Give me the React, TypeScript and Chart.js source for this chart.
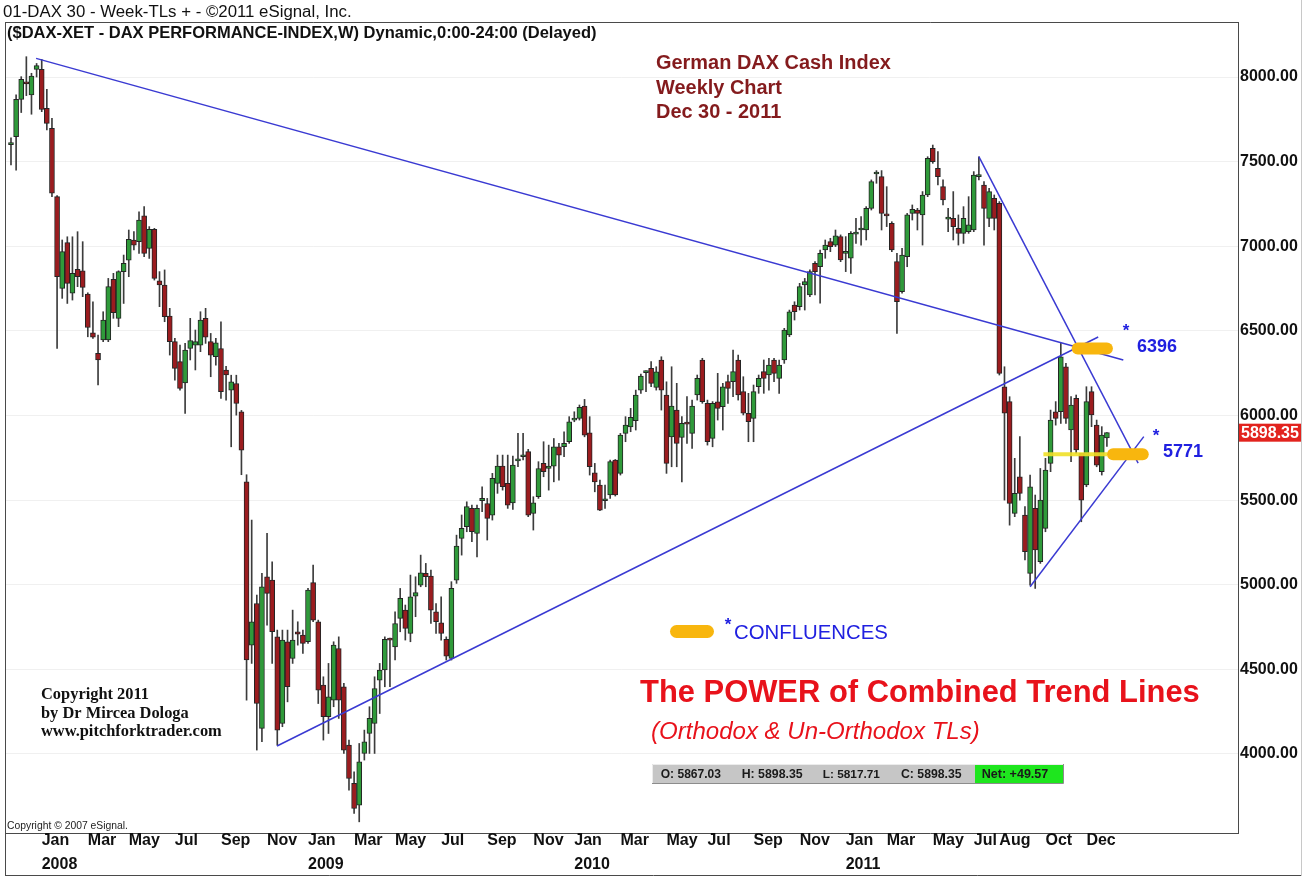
import React, { useEffect, useRef } from "react";
import { Chart, registerables } from "chart.js";

Chart.register(...registerables);

// ---- Weekly candles (index 0 = week ending 23 Nov 2007, last = 30 Dec 2011) ----
const opens = [
  7600, 7647, 7868, 7972, 7894, 8045, 8045, 7815, 7697, 7293,
  6751, 7021, 6722, 6863, 6855, 6717, 6489, 6367, 6446, 6446,
  6804, 6574, 6850, 6918, 7037, 7027, 7179, 6987, 7100, 6796,
  6771, 6588, 6436, 6318, 6193, 6396, 6416, 6416, 6574, 6436,
  6347, 6396, 6268, 6150, 6189, 6022, 5608, 4643, 4889, 4151,
  5047, 5027, 4692, 4180, 4663, 4564, 4722, 4702, 4663, 5012,
  4781, 4407, 4220, 4318, 4623, 4397, 4052, 3826, 3698, 4003,
  4121, 4180, 4436, 4496, 4680, 4633, 4801, 4850, 4712, 4933,
  4998, 5067, 5051, 4840, 4775, 4677, 4564, 5027, 5274, 5343,
  5451, 5303, 5496, 5480, 5411, 5599, 5701, 5599, 5484, 5732,
  5756, 5786, 5421, 5520, 5717, 5687, 5701, 5815, 5815, 5845,
  5973, 5983, 6056, 5898, 5661, 5589, 5496, 5530, 5736, 5658,
  5894, 5933, 5969, 6150, 6253, 6278, 6166, 6327, 6121, 5874,
  6032, 5870, 5953, 5894, 6121, 6328, 6072, 5865, 6081, 6052,
  6200, 6200, 6328, 6141, 6013, 5983, 6170, 6259, 6239, 6328,
  6219, 6328, 6476, 6653, 6643, 6771, 6712, 6899, 6880, 6978,
  7027, 7007, 7057, 6958, 6929, 7072, 7096, 7096, 7224, 7427,
  7411, 7185, 7135, 6909, 6732, 6938, 7194, 7214, 7185, 7303,
  7579, 7460, 7352, 7160, 7165, 7106, 7076, 7086, 7096, 7411,
  7362, 7165, 7283, 7254, 6170, 6082, 5422, 5638, 5412, 5067,
  5451, 5136, 5333, 5717, 6022, 6022, 6288, 5914, 6101, 5776,
  5589, 6141, 5944, 5668, 5867.03,
];
const highs = [
  7640, 7894, 8002, 8120, 8022, 8080, 8104, 7927, 7756, 7300,
  7037, 7056, 7056, 7086, 7027, 6725, 6672, 6475, 6613, 6810,
  6840, 6855, 6948, 7096, 7086, 7204, 7234, 7116, 7106, 6850,
  6860, 6633, 6456, 6416, 6426, 6574, 6505, 6613, 6633, 6485,
  6456, 6554, 6290, 6238, 6238, 6030, 5650, 5382, 4939, 5067,
  5303, 5136, 4732, 4732, 4732, 4850, 4781, 4732, 4978, 5116,
  4791, 4456, 4535, 4663, 4692, 4417, 4082, 3894, 4062, 4141,
  4279, 4456, 4535, 4692, 4685, 4840, 4978, 4880, 5057, 5047,
  5175, 5126, 5087, 4889, 4929, 4692, 5018, 5293, 5412, 5490,
  5470, 5470, 5579, 5510, 5658, 5766, 5766, 5766, 5760, 5894,
  5894, 5800, 5520, 5727, 5845, 5825, 5864, 5835, 5904, 5993,
  6022, 6062, 6095, 5993, 5717, 5618, 5589, 5737, 5740, 5894,
  5993, 6042, 6150, 6245, 6264, 6318, 6288, 6347, 6199, 6288,
  6190, 5993, 6111, 6091, 6239, 6338, 6091, 6082, 6249, 6190,
  6239, 6387, 6357, 6229, 6131, 6180, 6239, 6328, 6338, 6338,
  6328, 6515, 6623, 6672, 6781, 6810, 6860, 6909, 6978, 7037,
  7047, 7096, 7067, 7057, 7086, 7165, 7175, 7234, 7392, 7447,
  7447, 7352, 7145, 6958, 6988, 7194, 7244, 7224, 7323, 7529,
  7598, 7559, 7392, 7224, 7323, 7185, 7234, 7293, 7441, 7529,
  7382, 7342, 7303, 7264, 6288, 6111, 5747, 5875, 5461, 5648,
  5530, 5687, 5747, 6032, 6082, 6426, 6308, 6111, 6121, 5776,
  6170, 6170, 5973, 5934, 5898.35,
];
const lows = [
  7480, 7450, 7790, 7890, 7780, 8000, 7795, 7687, 7293, 6396,
  6692, 6662, 6682, 6761, 6702, 6465, 6456, 6180, 6436, 6436,
  6574, 6525, 6662, 6820, 6978, 6958, 6938, 6928, 6800, 6643,
  6554, 6357, 6209, 6150, 6012, 6328, 6269, 6377, 6426, 6229,
  6298, 6101, 6091, 5815, 6002, 5650, 4318, 4535, 4023, 4072,
  4761, 4535, 4052, 4161, 4308, 4535, 4643, 4594, 4653, 4781,
  4298, 4082, 4121, 4279, 4210, 4003, 3786, 3648, 3599, 3964,
  4003, 4003, 4239, 4397, 4397, 4555, 4722, 4673, 4663, 4811,
  4988, 4988, 4771, 4712, 4673, 4555, 4555, 5008, 5175, 5313,
  5254, 5165, 5431, 5264, 5382, 5540, 5559, 5451, 5445, 5697,
  5737, 5402, 5323, 5510, 5638, 5559, 5608, 5618, 5756, 5835,
  5963, 5973, 5874, 5648, 5549, 5437, 5451, 5510, 5524, 5648,
  5845, 5904, 5914, 6131, 6140, 6170, 6150, 6032, 5658, 5697,
  5697, 5608, 5835, 5805, 6091, 6072, 5825, 5815, 5973, 5914,
  6072, 6111, 6091, 6003, 5845, 5845, 6131, 6131, 6150, 6200,
  6131, 6308, 6466, 6564, 6623, 6623, 6702, 6712, 6663, 6929,
  6968, 6998, 6909, 6850, 6840, 7017, 7007, 7037, 7214, 7372,
  7096, 7116, 6968, 6485, 6722, 6879, 7155, 7096, 7007, 7293,
  7490, 7362, 7244, 7086, 7037, 7007, 7017, 7076, 7086, 7392,
  7007, 7116, 7096, 6239, 5500, 5352, 5402, 5500, 5146, 4998,
  4978, 5126, 5313, 5668, 5943, 5953, 5953, 5727, 5776, 5372,
  5579, 5934, 5697, 5648, 5817.71,
];
const closes = [
  7612, 7868, 7986, 7959, 8006, 8067, 7808, 7726, 7314, 6820,
  6968, 6781, 6840, 6820, 6757, 6520, 6462, 6328, 6564, 6761,
  6607, 6850, 6899, 7041, 7007, 7155, 6958, 7100, 6810, 6771,
  6584, 6436, 6278, 6160, 6387, 6442, 6436, 6564, 6462, 6357,
  6430, 6140, 6240, 6199, 6071, 5795, 4555, 4781, 4298, 4988,
  4949, 4722, 4141, 4673, 4397, 4673, 4708, 4653, 4968, 4791,
  4377, 4220, 4338, 4643, 4318, 4023, 3855, 3678, 3954, 4072,
  4210, 4387, 4496, 4677, 4673, 4771, 4919, 4742, 4929, 4953,
  5071, 5047, 4850, 4781, 4712, 4578, 4978, 5228, 5333, 5461,
  5313, 5451, 5510, 5392, 5628, 5701, 5579, 5470, 5707, 5740,
  5766, 5411, 5484, 5687, 5668, 5701, 5815, 5766, 5835, 5963,
  5981, 6048, 5884, 5697, 5608, 5441, 5504, 5727, 5530, 5884,
  5943, 5989, 6121, 6233, 6258, 6190, 6258, 6150, 5717, 6056,
  5835, 5953, 5949, 6056, 6219, 6081, 5845, 6072, 6042, 6170,
  6160, 6259, 6121, 6013, 5963, 6141, 6219, 6219, 6298, 6249,
  6298, 6505, 6613, 6613, 6761, 6791, 6850, 6850, 6958, 7007,
  6998, 7061, 6919, 6968, 7076, 7076, 7100, 7224, 7382, 7435,
  7194, 7179, 6978, 6672, 6948, 7185, 7218, 7194, 7303, 7520,
  7500, 7411, 7273, 7165, 7116, 7076, 7165, 7126, 7421, 7421,
  7224, 7323, 7165, 6249, 6013, 5481, 5540, 5540, 5195, 5579,
  5205, 5500, 5678, 5973, 5983, 6347, 5983, 6062, 5796, 5500,
  6082, 6003, 5707, 5884, 5898.35,
];
const netChange = "+49.57";

// x axis: first week of each labelled month (week index) and its label
const monthTickIndex = [6, 15, 23, 32, 41, 50, 58, 67, 75, 84, 93, 102, 110, 119, 128, 136, 145, 154, 163, 171, 180, 188, 193, 202, 210];
const monthTickLabels: (string | string[])[] = [
  ["Jan", "2008"], "Mar", "May", "Jul", "Sep", "Nov",
  ["Jan", "2009"], "Mar", "May", "Jul", "Sep", "Nov",
  ["Jan", "2010"], "Mar", "May", "Jul", "Sep", "Nov",
  ["Jan", "2011"], "Mar", "May", "Jul", "Aug", "Oct", "Dec",
];
const priceTicks = [4000, 4500, 5000, 5500, 6000, 6500, 7000, 7500, 8000];

// trend lines: [startWeek, startPrice, endWeek, endPrice]
const trendLines = [
  [4.9, 8110, 217.2, 6328],
  [51.95, 4047, 212.3, 6464],
  [189.0, 7529, 220.1, 5719],
  [199.0, 4988, 221.2, 5875],
];
// confluence levels and the week spans of their highlight marks
const confluenceLevels = [6396, 5771];
const confluenceSpans = [[208.3, 214.0], [215.2, 221.0]];
const confluenceGuide = [201.6, 214.1];

const X_MIN = -1.17;
const X_MAX = 239.6;
const Y_MIN = 3533;
const Y_MAX = 8325;

const SANS = '"Liberation Sans", Arial, sans-serif';
const SERIF = '"Liberation Serif", "Times New Roman", serif';
const GREEN = "#2f9a3a";
const RED = "#9b1c1f";
const BLUE_TXT = "#2020e0";
const LINE_BLUE = "#3a3ad2";
const ORANGE = "#f8b60e";
const TITLE_RED = "#841b1d";
const POWER_RED = "#e8121b";

function fitText(
  ctx: CanvasRenderingContext2D, text: string, x: number, cy: number, width: number,
  style: string, family: string, color: string, capRatio = 0.716, fixedSize?: number
) {
  let size = fixedSize;
  if (!size) {
    ctx.font = `${style} 100px ${family}`;
    const m = ctx.measureText(text).width;
    size = (100 * width) / m;
  }
  ctx.font = `${style} ${size}px ${family}`;
  ctx.fillStyle = color;
  ctx.textAlign = "left";
  ctx.textBaseline = "alphabetic";
  ctx.fillText(text, x, cy + (size * capRatio) / 2);
  return size;
}

function roundRect(ctx: CanvasRenderingContext2D, x: number, y: number, w: number, h: number, r: number) {
  ctx.beginPath();
  ctx.moveTo(x + r, y);
  ctx.lineTo(x + w - r, y);
  ctx.arc(x + w - r, y + r, r, -Math.PI / 2, 0);
  ctx.lineTo(x + w, y + h - r);
  ctx.arc(x + w - r, y + h - r, r, 0, Math.PI / 2);
  ctx.lineTo(x + r, y + h);
  ctx.arc(x + r, y + h - r, r, Math.PI / 2, Math.PI);
  ctx.lineTo(x, y + r);
  ctx.arc(x + r, y + r, r, Math.PI, Math.PI * 1.5);
  ctx.closePath();
}

const decorPlugin = {
  id: "decor",
  afterDraw(chart: any) {
    const ctx: CanvasRenderingContext2D = chart.ctx;
    const area = chart.chartArea;
    const yScale = chart.scales.y;
    ctx.save();

    // frame
    ctx.strokeStyle = "#4a4a4a";
    ctx.lineWidth = 1;
    ctx.beginPath();
    ctx.moveTo(area.left + 0.5, area.top + 0.5);
    ctx.lineTo(area.right + 0.5, area.top + 0.5);
    ctx.moveTo(area.left + 0.5, area.top);
    ctx.lineTo(area.left + 0.5, 876);
    ctx.moveTo(area.left, 875.5);
    ctx.lineTo(1302, 875.5);
    ctx.stroke();
    ctx.strokeStyle = "#c8c8c8";
    ctx.beginPath();
    ctx.moveTo(1301.5, 0);
    ctx.lineTo(1301.5, 876);
    ctx.stroke();

    // header
    fitText(ctx, "01-DAX 30 - Week-TLs + - \u00A92011 eSignal, Inc.", 3, 11, 349, "normal", SANS, "#111");
    fitText(ctx, "($DAX-XET - DAX PERFORMANCE-INDEX,W) Dynamic,0:00-24:00 (Delayed)", 7, 32, 590, "bold", SANS, "#111");

    // title
    const ts = fitText(ctx, "German DAX Cash Index", 656, 61.7, 235, "bold", SANS, TITLE_RED);
    fitText(ctx, "Weekly Chart", 656, 87, 0, "bold", SANS, TITLE_RED, 0.716, ts);
    fitText(ctx, "Dec 30 - 2011", 656, 110.5, 0, "bold", SANS, TITLE_RED, 0.716, ts);

    // main caption
    fitText(ctx, "The POWER of Combined Trend Lines", 640, 691, 560, "bold", SANS, POWER_RED);
    fitText(ctx, "(Orthodox & Un-Orthodox TLs)", 651, 730, 329, "italic", SANS, POWER_RED);

    // confluence key
    ctx.fillStyle = ORANGE;
    roundRect(ctx, 670, 625, 44, 13, 6.5);
    ctx.fill();
    const star = (x: number, y: number) => {
      ctx.font = `bold 17px ${SANS}`;
      ctx.fillStyle = BLUE_TXT;
      ctx.textAlign = "center";
      ctx.textBaseline = "middle";
      ctx.fillText("*", x, y + 3);
    };
    star(728, 622);
    fitText(ctx, "CONFLUENCES", 734, 632, 154, "normal", SANS, BLUE_TXT);

    // confluence values
    star(1126, 328);
    fitText(ctx, String(confluenceLevels[0]), 1137, 345.5, 40, "bold", SANS, BLUE_TXT);
    star(1156, 433);
    fitText(ctx, String(confluenceLevels[1]), 1163, 450.5, 40, "bold", SANS, BLUE_TXT);

    // copyright block
    const cs = fitText(ctx, "www.pitchforktrader.com", 41, 730.5, 181, "bold", SERIF, "#111", 0.662);
    fitText(ctx, "Copyright 2011", 41, 693.8, 0, "bold", SERIF, "#111", 0.662, cs);
    fitText(ctx, "by Dr Mircea Dologa", 41, 712.5, 0, "bold", SERIF, "#111", 0.662, cs);
    fitText(ctx, "Copyright \u00A9 2007 eSignal.", 7, 825.5, 121, "normal", SANS, "#222");

    // OHLC info bar
    const last = closes.length - 1;
    ctx.fillStyle = "#c6c6c6";
    ctx.fillRect(652, 764, 411, 19);
    ctx.strokeStyle = "#8c8c8c";
    ctx.beginPath();
    ctx.moveTo(652, 783.5); ctx.lineTo(1063.5, 783.5); ctx.lineTo(1063.5, 764);
    ctx.stroke();
    ctx.strokeStyle = "#ececec";
    ctx.beginPath();
    ctx.moveTo(652.5, 783); ctx.lineTo(652.5, 764.5); ctx.lineTo(1063, 764.5);
    ctx.stroke();
    ctx.fillStyle = "#1ee61e";
    ctx.fillRect(975, 765, 88, 18);
    const info: [string, number, number][] = [
      [`O: ${opens[last].toFixed(2)}`, 660.7, 60.3],
      [`H: ${highs[last].toFixed(2)}`, 741.7, 61],
      [`L: ${lows[last].toFixed(2)}`, 822.7, 57.3],
      [`C: ${closes[last].toFixed(2)}`, 901, 60.7],
      [`Net: ${netChange}`, 981.7, 66.7],
    ];
    info.forEach(([t, x, w]) => fitText(ctx, t, x, 773.5, w, "bold", SANS, "#1a1a1a"));

    // last price box on the price axis
    const py = yScale.getPixelForValue(closes[last]);
    ctx.fillStyle = "#e2231e";
    ctx.fillRect(area.right + 1, py - 9, 62, 18);
    fitText(ctx, closes[last].toFixed(2), area.right + 3, py, 58, "bold", SANS, "#ffffff");

    ctx.restore();
  },
};

export default function App() {
  const canvasRef = useRef<HTMLCanvasElement | null>(null);

  useEffect(() => {
    document.body.style.margin = "0";
    const canvas = canvasRef.current;
    if (!canvas) return;

    const bodyColors = opens.map((o, i) => (closes[i] >= o ? GREEN : RED));

    const lineSets = trendLines.map((t) => ({
      type: "line" as const,
      data: [{ x: t[0], y: t[1] }, { x: t[2], y: t[3] }],
      borderColor: LINE_BLUE,
      borderWidth: 1.5,
      pointRadius: 0,
      tension: 0,
      order: 1,
    }));

    const bubbleSets = confluenceLevels.map((lvl, k) => ({
      type: "line" as const,
      data: [{ x: confluenceSpans[k][0], y: lvl }, { x: confluenceSpans[k][1], y: lvl }],
      borderColor: ORANGE,
      borderWidth: 12,
      borderCapStyle: "round" as const,
      pointRadius: 0,
      order: 0,
    }));

    const guideSet = {
      type: "line" as const,
      data: [{ x: confluenceGuide[0], y: confluenceLevels[1] }, { x: confluenceGuide[1], y: confluenceLevels[1] }],
      borderColor: "rgba(240,224,40,0.9)",
      borderWidth: 4,
      pointRadius: 0,
      order: 1.5,
    };

    const chart = new Chart(canvas, {
      type: "bar",
      data: {
        datasets: [
          ...bubbleSets,
          ...lineSets,
          guideSet,
          {
            type: "bar" as const,
            data: opens.map((o, i) => ({ x: i, y: [o, closes[i]] })),
            backgroundColor: bodyColors,
            borderColor: "#242424",
            borderWidth: 1,
            borderSkipped: false,
            barThickness: 5,
            minBarLength: 2,
            grouped: false,
            order: 2,
          },
          {
            type: "bar" as const,
            data: lows.map((l, i) => ({ x: i, y: [l, highs[i]] })),
            backgroundColor: "#3c3c3c",
            borderWidth: 0,
            barThickness: 1,
            grouped: false,
            order: 3,
          },
        ] as any,
      },
      options: {
        responsive: false,
        animation: false,
        devicePixelRatio: 1,
        events: [],
        layout: { padding: { top: 22, left: 5, right: 0, bottom: 0 } },
        plugins: { legend: { display: false }, tooltip: { enabled: false } },
        scales: {
          x: {
            type: "linear",
            min: X_MIN,
            max: X_MAX,
            offset: false,
            grid: { display: false, drawTicks: false },
            border: { display: true, color: "#4a4a4a" },
            afterBuildTicks: (s: any) => {
              s.ticks = monthTickIndex.map((v) => ({ value: v }));
            },
            afterFit: (s: any) => {
              s.height = 44;
            },
            ticks: {
              autoSkip: false,
              maxRotation: 0,
              minRotation: 0,
              align: "start",
              padding: -4,
              color: "#111",
              font: { family: SANS, size: 16, weight: "bold", lineHeight: 1.5 },
              callback: (_v: any, idx: number) => monthTickLabels[idx],
            },
          },
          y: {
            position: "right",
            min: Y_MIN,
            max: Y_MAX,
            afterBuildTicks: (s: any) => {
              s.ticks = priceTicks.map((v) => ({ value: v }));
            },
            afterFit: (s: any) => {
              s.width = 74;
            },
            grid: { color: "rgba(0,0,0,0.06)", drawTicks: false },
            border: { display: true, color: "#4a4a4a" },
            ticks: {
              padding: 2,
              color: "#111",
              font: { family: SANS, size: 16, weight: "bold" },
              callback: (v: any) => Number(v).toFixed(2),
            },
          },
        },
      } as any,
      plugins: [decorPlugin],
    });

    return () => chart.destroy();
  }, []);

  return (
    <div style={{ width: 1312, height: 877, background: "#fff" }}>
      <canvas ref={canvasRef} width={1312} height={877} style={{ display: "block" }} />
    </div>
  );
}
